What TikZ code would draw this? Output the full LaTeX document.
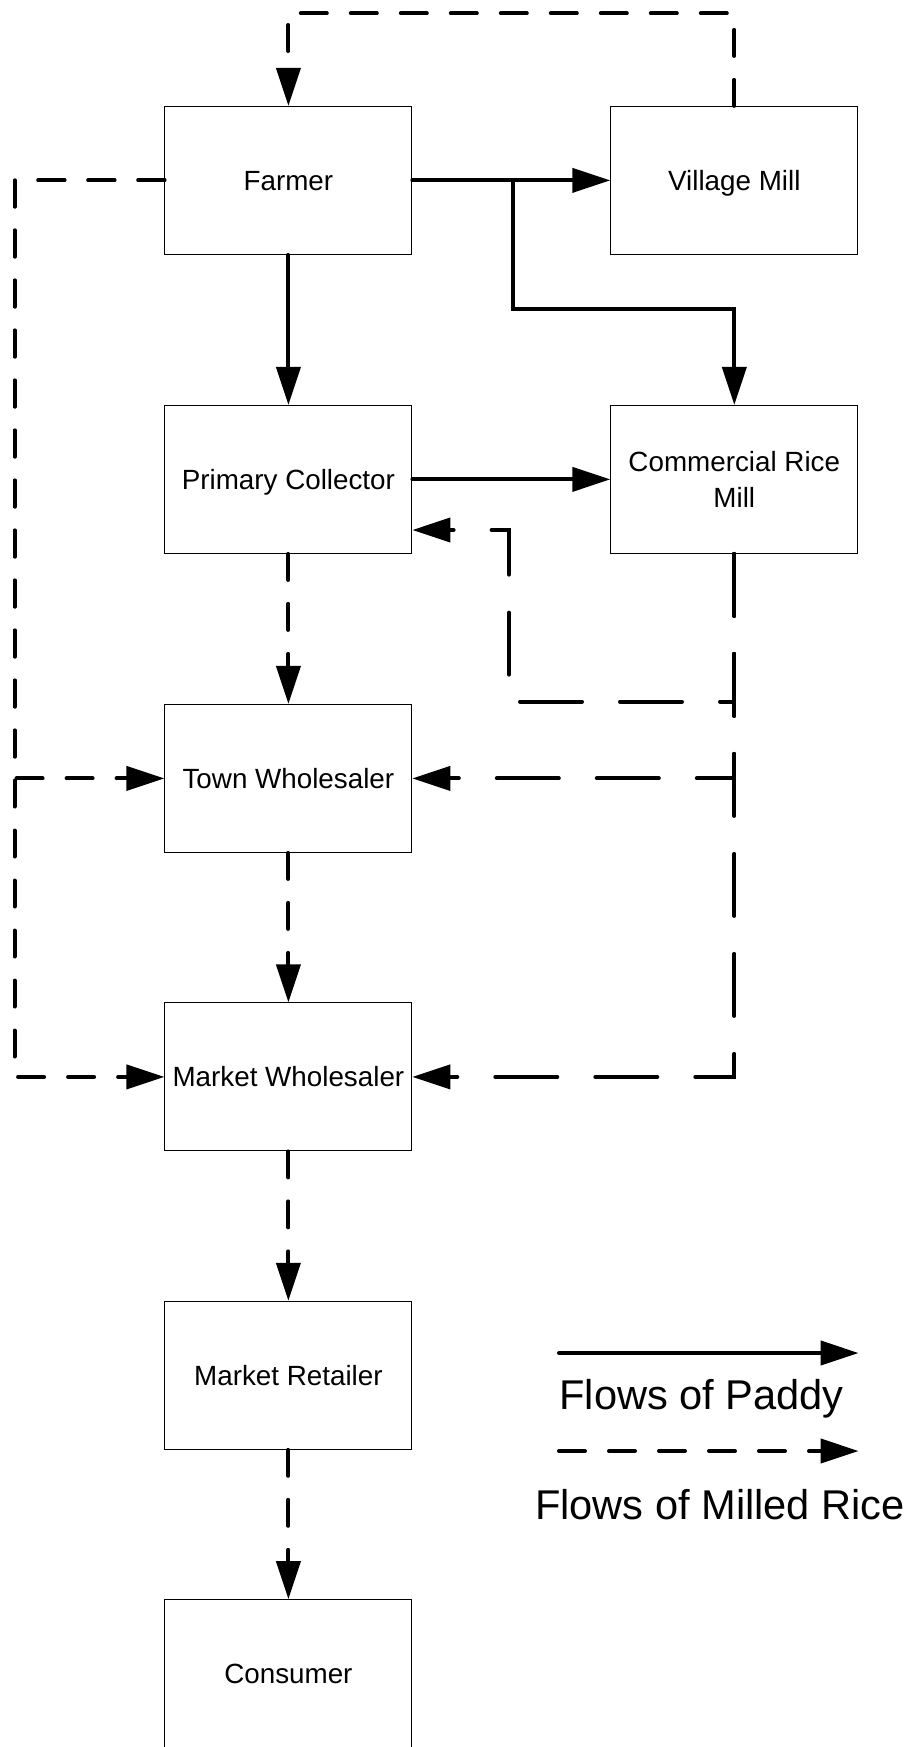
\documentclass[tikz,border=0pt]{standalone}
\usepackage{fontspec}
\setmainfont{Liberation Sans}
\usetikzlibrary{arrows.meta}

\begin{document}
\begin{tikzpicture}[x=0.5pt,y=-0.5pt,>={Triangle[length=19pt,width=12pt]},
  box/.style={draw,line width=0.5pt,minimum width=123.5pt,minimum height=74pt,
    align=center,inner sep=2pt,font=\fontsize{13.9pt}{17.8pt}\selectfont},
  onebox/.style={box,text height=9.95pt,text depth=0pt},
  flow/.style={line width=2pt,line cap=round},
  paddy/.style={flow,->},
  milled/.style={flow,->,dash pattern=on 13pt off 12pt},
  milledlong/.style={flow,->,dash pattern=on 31pt off 19pt},
  legend/.style={inner sep=0pt,font=\fontsize{20.8pt}{25pt}\selectfont}]
  \useasboundingbox (0,0) rectangle (912,1747);

  \node[onebox] (farmer) at (288.4,180.4) {Farmer};
  \node[onebox] (vmill) at (734.3,180.4) {Village Mill};
  \node[onebox] (collector) at (288.4,479.4) {Primary Collector};
  \node[box] (crmill) at (734.3,479.4) {Commercial Rice\\Mill};
  \node[onebox] (townws) at (288.4,778.4) {Town Wholesaler};
  \node[onebox] (marketws) at (288.4,1076.9) {Market Wholesaler};
  \node[onebox] (retailer) at (288.4,1375.3) {Market Retailer};
  \node[onebox] (consumer) at (288.4,1673.7) {Consumer};

  \coordinate (topline) at (0,13.4);
  \coordinate (leftline) at (14.5,0);
  \coordinate (split) at (513.4,180.4);
  \coordinate (bend) at (513.4,308.5);
  \coordinate (back) at (509,701.6);
  \coordinate (backtop) at (509,530);

  % paddy
  \draw[paddy] (farmer) -- (vmill);
  \draw[paddy] (farmer) -- (collector);
  \draw[paddy] (split) -- (bend) -| (crmill.north);
  \draw[paddy] (collector) -- (crmill);

  % milled rice
  \draw[milled] (vmill.north) |- (farmer.north |- topline) -- (farmer.north);
  \draw[milled] (farmer.west) -- (farmer.west -| leftline) |- (marketws.west);
  \draw[milled] (farmer.west) -- (farmer.west -| leftline) |- (townws.west);
  \draw[milled] (collector) -- (townws);
  \draw[milled] (townws) -- (marketws);
  \draw[milled] (marketws) -- (retailer);
  \draw[milled] (retailer) -- (consumer);
  \draw[milledlong] (crmill.south) |- (marketws.east);
  \draw[milledlong] (crmill.south) |- (townws.east);
  \draw[milledlong] (crmill.south) |- (back) -- (backtop) -- (backtop -| collector.east);

  % legend
  \coordinate (paddyA) at (559,1353);
  \coordinate (paddyB) at (858.6,1353);
  \draw[paddy] (paddyA) -- (paddyB);
  \node[legend,anchor=base west] (paddylabel) at (559,1409) {Flows of Paddy};
  \coordinate (milledA) at (559,1451);
  \coordinate (milledB) at (858.6,1451);
  \draw[milled] (milledA) -- (milledB);
  \node[legend,anchor=base] (milledlabel) at (720,1519) {Flows of Milled Rice};
\end{tikzpicture}
\end{document}
